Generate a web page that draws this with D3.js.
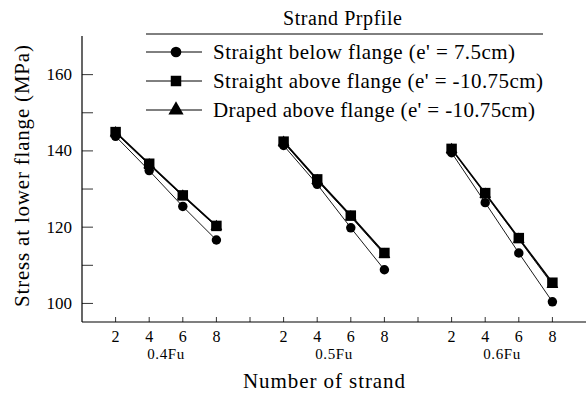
<!DOCTYPE html>
<html>
<head>
<meta charset="utf-8">
<script src="https://cdn.jsdelivr.net/npm/d3@7"></script>
<style>
  body { margin: 0; background: #fff; }
</style>
</head>
<body>
<div id="chart"></div>
<script>
// values
const strands = [2, 4, 6, 8];
const groups = ["0.4Fu", "0.5Fu", "0.6Fu"];
const yTicks = [100, 120, 140, 160];
const yMinorTicks = [110, 130, 150];

const belowFlange = [[143.7, 134.7, 125.3, 116.5], [141.3, 131.1, 119.7, 108.7], [139.4, 126.3, 113.1, 100.3]];
const aboveFlange = [[144.8, 136.5, 128.2, 120.2], [142.3, 132.4, 122.9, 113.1], [140.4, 128.8, 117.0, 105.3]];
const drapedAbove = [[144.6, 136.2, 128.0, 120.0], [142.1, 132.1, 122.6, 112.7], [140.2, 128.5, 116.7, 104.8]];

const seriesNames = [
  "Straight below flange (e' = 7.5cm)",
  "Straight above flange (e' = -10.75cm)",
  "Draped above flange (e' = -10.75cm)"
];

const width = 586, height = 394;
const plotLeft = 82, plotRight = 586, plotTop = 36, plotBottom = 322;
const serif = '"Liberation Serif", "Times New Roman", Times, "DejaVu Serif", serif';

const svg = d3.select("#chart")
  .append("svg")
  .attr("width", width)
  .attr("height", height)
  .attr("font-family", serif)
  .style("font-family", serif);

// position index: each group takes 4 slots + 1 spacer
const x = d3.scaleLinear().domain([-1, 14]).range([plotLeft, plotRight]);
const y = d3.scaleLinear().domain([95, 170]).range([plotBottom, plotTop]);
const idx = (g, i) => g * 5 + i;

// axes
svg.append("line").attr("x1", plotLeft).attr("x2", plotLeft).attr("y1", plotTop).attr("y2", plotBottom)
  .attr("stroke", "#000").attr("stroke-width", 1.2);
svg.append("line").attr("x1", plotLeft).attr("x2", plotRight).attr("y1", plotBottom).attr("y2", plotBottom)
  .attr("stroke", "#000").attr("stroke-width", 1.2);

const yAxis = d3.axisRight(y).tickValues(yTicks.concat(yMinorTicks)).tickSize(11).tickFormat("");
svg.append("g").attr("transform", `translate(${plotLeft},0)`).call(yAxis)
  .call(g => g.select(".domain").remove())
  .call(g => g.selectAll("line").attr("stroke-width", 0.8));

svg.selectAll(".ylab").data(yTicks).join("text")
  .attr("x", plotLeft - 10).attr("y", d => y(d) + 6)
  .attr("text-anchor", "end").style("font-size", "17px")
  .text(d => d);

// x ticks (inward)
const xTickIdx = d3.range(0, 14);
svg.selectAll(".xt").data(xTickIdx).join("line")
  .attr("x1", d => x(d)).attr("x2", d => x(d))
  .attr("y1", plotBottom).attr("y2", plotBottom - 5)
  .attr("stroke", "#000").attr("stroke-width", 0.8);

const xLabels = [];
groups.forEach((g, gi) => strands.forEach((s, i) => xLabels.push({ pos: idx(gi, i), s })));
svg.selectAll(".xl").data(xLabels).join("text")
  .attr("x", d => x(d.pos)).attr("y", plotBottom + 20)
  .attr("text-anchor", "middle").style("font-size", "16px")
  .text(d => d.s);

svg.selectAll(".gl").data(groups).join("text")
  .attr("x", (d, gi) => x(idx(gi, 1.5))).attr("y", plotBottom + 37)
  .attr("text-anchor", "middle").style("font-size", "15px").style("letter-spacing", "0.6px")
  .text(d => d);

svg.append("text").attr("x", 324).attr("y", 388)
  .attr("text-anchor", "middle").style("font-size", "21px")
  .attr("textLength", 162).attr("lengthAdjust", "spacing")
  .text("Number of strand");

svg.append("text")
  .attr("transform", "translate(29,176) rotate(-90)")
  .attr("text-anchor", "middle").style("font-size", "21px")
  .attr("textLength", 262).attr("lengthAdjust", "spacing")
  .text("Stress at lower flange (MPa)");

// series
const symbols = [d3.symbolCircle, d3.symbolSquare, d3.symbolTriangle];
const symSizes = [70, 110, 60];
const lineWidths = [0.9, 1.6, 0.9];
const allSeries = [belowFlange, aboveFlange, drapedAbove];
const line = d3.line().x(d => x(d.pos)).y(d => y(d.v));

// draw draped first so the squares sit on top
[2, 0, 1].forEach(si => {
  const data = allSeries[si];
  data.forEach((vals, gi) => {
    const pts = vals.map((v, i) => ({ pos: idx(gi, i), v }));
    svg.append("path").attr("d", line(pts))
      .attr("fill", "none").attr("stroke", "#000").attr("stroke-width", lineWidths[si]);
    svg.selectAll(null).data(pts).join("path")
      .attr("transform", d => `translate(${x(d.pos)},${y(d.v)})`)
      .attr("d", d3.symbol(symbols[si], symSizes[si]))
      .attr("fill", "#000");
  });
});

// legend
svg.append("text").attr("x", 283).attr("y", 25).style("font-size", "20px")
  .attr("textLength", 119).attr("lengthAdjust", "spacing")
  .text("Strand Prpfile");
svg.append("line").attr("x1", 146).attr("x2", 543).attr("y1", 34).attr("y2", 34)
  .attr("stroke", "#000").attr("stroke-width", 1);
const legY = [52, 81, 110];
const legSizes = [90, 110, 100];
const legWidths = [302, 330, 322];
seriesNames.forEach((name, si) => {
  const g = svg.append("g").attr("transform", `translate(0,${legY[si]})`);
  g.append("line").attr("x1", 146).attr("x2", 202).attr("y1", 0).attr("y2", 0)
    .attr("stroke", "#000").attr("stroke-width", 1);
  g.append("path").attr("transform", "translate(176,0)")
    .attr("d", d3.symbol(symbols[si], legSizes[si])).attr("fill", "#000");
  g.append("text").attr("x", 213).attr("y", 7).style("font-size", "21px")
    .attr("textLength", legWidths[si]).attr("lengthAdjust", "spacing")
    .text(name);
});
</script>
</body>
</html>
